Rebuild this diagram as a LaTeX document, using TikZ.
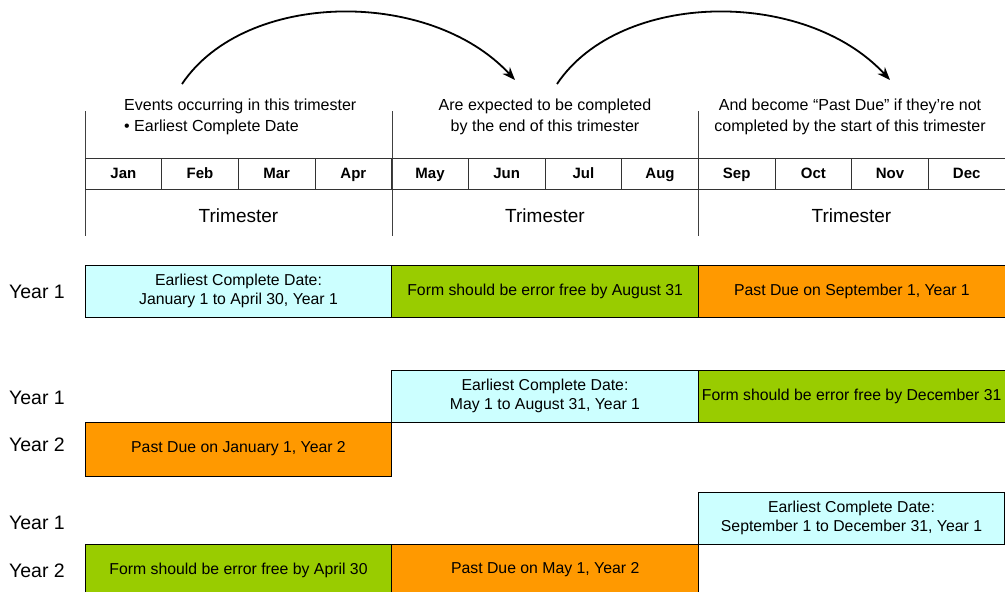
\documentclass[tikz,border=0pt]{standalone}
\usepackage{fontspec}
\setmainfont{Liberation Sans}
\usepackage{xcolor}
\usetikzlibrary{arrows.meta, positioning, calc}

\definecolor{earlycyan}{HTML}{CCFFFF}
\definecolor{freegreen}{HTML}{99CC00}
\definecolor{dueorange}{HTML}{FF9900}

\tikzset{
  cellbox/.style={draw=black, line width=1pt, minimum width=306.7pt,
    minimum height=52pt, inner sep=0pt, outer sep=0pt, align=center,
    font=\fontsize{15.8}{18.5}\selectfont},
  monthcell/.style={draw=black!80, line width=0.9pt, minimum width=76.67pt,
    minimum height=31.5pt, inner sep=0pt, outer sep=0pt, text height=11pt,
    text depth=3pt, font=\fontsize{15}{18}\selectfont\bfseries},
  yearlabel/.style={font=\fontsize{19.5}{21}\selectfont, inner sep=0pt},
  headtext/.style={font=\fontsize{16}{21}\selectfont, inner sep=0pt},
  divider/.style={black!75, line width=1pt}
}

\begin{document}
\begin{tikzpicture}[x=1pt, y=-1pt, >={Stealth[length=13pt, width=10pt]}]
  \useasboundingbox[fill=white] (0,0) rectangle (1005,592);

  %% trimester dividers
  \foreach \x in {85,392,698}{
    \draw[divider] (\x,111) -- (\x,236);
  }
  %% month row
  \foreach \m [count=\i] in {Jan,Feb,Mar,Apr,May,Jun,Jul,Aug,Sep,Oct,Nov,Dec}{
    \node[monthcell] (m\i) at ({85+(\i-0.5)*76.67},174) {\m};
  }
  \foreach \x in {238.5,545,851.5}{
    \node[headtext, font=\fontsize{19}{21}\selectfont] at (\x,216) {Trimester};
  }

  %% header texts
  \node[headtext, anchor=west, align=left] (evt) at (124,117)
    {Events occurring in this trimester\\\textbullet\ Earliest Complete Date};
  \node[headtext, align=center] (exp) at (545,117)
    {Are expected to be completed\\by the end of this trimester};
  \node[headtext, align=center] (due) at (850,117)
    {And become “Past Due” if they’re not\\completed by the start of this trimester};

  %% arrows between trimesters
  \coordinate (a1s) at (182,84);
  \coordinate (a1e) at (515,80);
  \coordinate (a2s) at (557,84);
  \coordinate (a2e) at (890,80);
  \draw[->, line width=1.8pt] (a1s) .. controls (245,-10) and (430,-12) .. (a1e);
  \draw[->, line width=1.8pt] (a2s) .. controls (620,-10) and (805,-12) .. (a2e);

  %% first schedule
  \node[yearlabel] (y1a) at (37,292) {Year 1};
  \node[cellbox, fill=earlycyan] (e1) at (238.5,291)
    {Earliest Complete Date:\\January 1 to April 30, Year 1};
  \node[cellbox, fill=freegreen, right=0pt of e1] (f1)
    {\raisebox{-2pt}{Form should be error free by August 31}};
  \node[cellbox, fill=dueorange, right=0pt of f1] (d1)
    {\raisebox{-2pt}{Past Due on September 1, Year 1}};

  %% second schedule
  \node[yearlabel] (y1b) at (37,398) {Year 1};
  \node[yearlabel] (y2b) at (37,445) {Year 2};
  \node[cellbox, fill=earlycyan] (e2) at (545,396)
    {Earliest Complete Date:\\May 1 to August 31, Year 1};
  \node[cellbox, fill=freegreen, right=0pt of e2] (f2)
    {\raisebox{-2pt}{Form should be error free by December 31}};
  \node[cellbox, fill=dueorange, minimum height=54pt] (d2) at (238.5,449)
    {\raisebox{-2pt}{Past Due on January 1, Year 2}};

  %% third schedule
  \node[yearlabel] (y1c) at (37,523) {Year 1};
  \node[yearlabel] (y2c) at (37,571) {Year 2};
  \node[cellbox, fill=earlycyan] (e3) at (851.5,518)
    {Earliest Complete Date:\\September 1 to December 31, Year 1};
  \node[cellbox, fill=freegreen] (f3) at (238.5,570)
    {\raisebox{-3pt}{Form should be error free by April 30}};
  \node[cellbox, fill=dueorange, right=0pt of f3] (d3)
    {\raisebox{-3pt}{Past Due on May 1, Year 2}};
\end{tikzpicture}
\end{document}
